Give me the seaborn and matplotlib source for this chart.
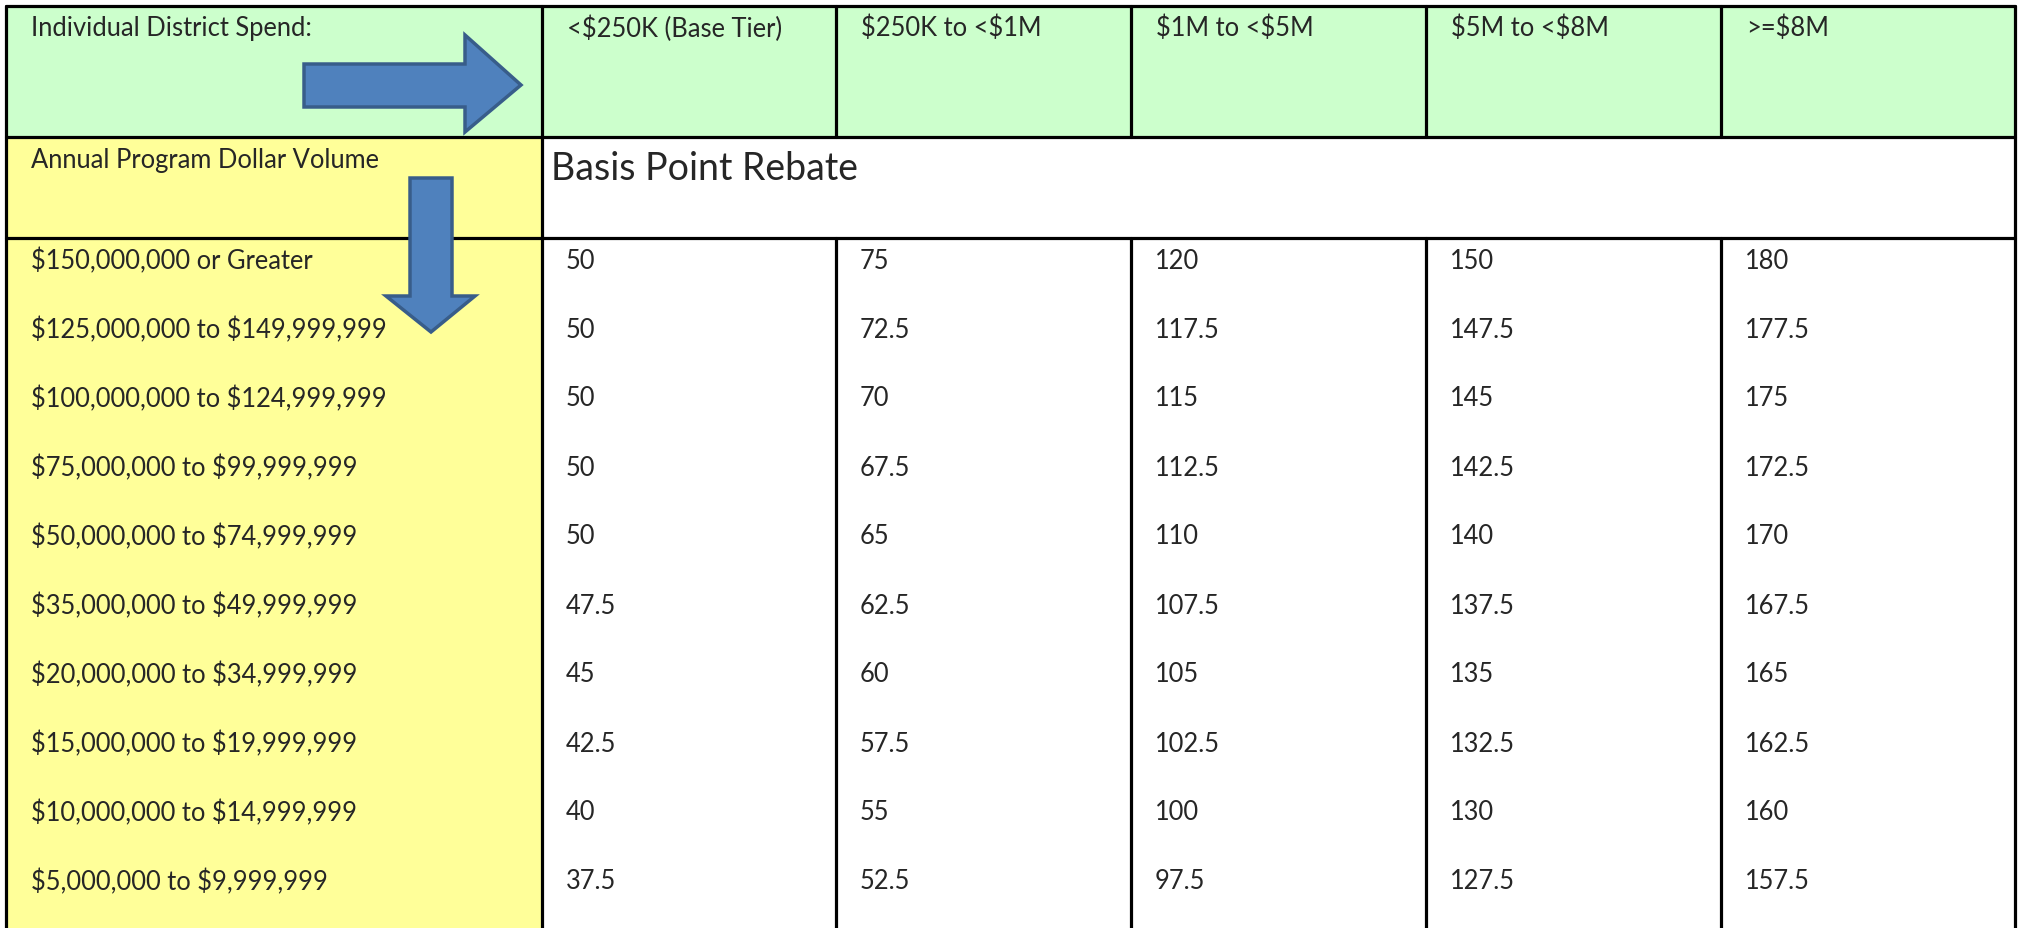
import numpy as np
import pandas as pd
import seaborn as sns
import matplotlib.pyplot as plt
from matplotlib.patches import Rectangle, Polygon

# table content
corner_label = "Individual District Spend:"
row_title = "Annual Program Dollar Volume"
band_label = "Basis Point Rebate"
spend_tiers = ["<$250K (Base Tier)", "$250K to <$1M", "$1M to <$5M", "$5M to <$8M", ">=$8M"]
volume_tiers = [
    "$150,000,000 or Greater",
    "$125,000,000 to $149,999,999",
    "$100,000,000 to $124,999,999",
    "$75,000,000 to $99,999,999",
    "$50,000,000 to $74,999,999",
    "$35,000,000 to $49,999,999",
    "$20,000,000 to $34,999,999",
    "$15,000,000 to $19,999,999",
    "$10,000,000 to $14,999,999",
    "$5,000,000 to $9,999,999",
]
base_tier = [50, 50, 50, 50, 50, 47.5, 45, 42.5, 40, 37.5]
tier_250k = [75, 72.5, 70, 67.5, 65, 62.5, 60, 57.5, 55, 52.5]
tier_1m = [120, 117.5, 115, 112.5, 110, 107.5, 105, 102.5, 100, 97.5]
tier_5m = [150, 147.5, 145, 142.5, 140, 137.5, 135, 132.5, 130, 127.5]
tier_8m = [180, 177.5, 175, 172.5, 170, 167.5, 165, 162.5, 160, 157.5]

df = pd.DataFrame({spend_tiers[0]: base_tier, spend_tiers[1]: tier_250k,
                   spend_tiers[2]: tier_1m, spend_tiers[3]: tier_5m,
                   spend_tiers[4]: tier_8m}, index=volume_tiers)

sns.set_theme(style="white")
plt.rcParams['font.family'] = ['Lato', 'DejaVu Sans']
plt.rcParams['text.parse_math'] = False

W, H = 2023, 929
fig = plt.figure(figsize=(W / 100, H / 100), dpi=100)
ax = fig.add_axes([0, 0, 1, 1])
ax.set_xlim(0, W)
ax.set_ylim(H, 0)
ax.axis('off')

GREEN = '#CCFFCC'
YELLOW = '#FFFF99'
col_edges = [6.5, 542, 836, 1131, 1426, 1721, 2015]
top, head_bot, band_bot = 6.5, 138, 239
row_h = (H - band_bot) / len(volume_tiers)
lw = 2.3
fs = 18.4

# backgrounds
ax.add_patch(Rectangle((col_edges[0], top), col_edges[-1] - col_edges[0], head_bot - top, color=GREEN, zorder=0))
ax.add_patch(Rectangle((col_edges[0], head_bot), col_edges[1] - col_edges[0], H - head_bot, color=YELLOW, zorder=0))

# grid lines
ax.plot([col_edges[0], col_edges[-1]], [top, top], color='black', lw=lw)
ax.plot([col_edges[0], col_edges[-1]], [head_bot, head_bot], color='black', lw=lw)
ax.plot([col_edges[0], col_edges[-1]], [band_bot, band_bot], color='black', lw=lw)
for i, x in enumerate(col_edges):
    y_start = top
    if 1 < i < len(col_edges) - 1:
        ax.plot([x, x], [top, head_bot], color='black', lw=lw)
        y_start = band_bot
    ax.plot([x, x], [y_start, H], color='black', lw=lw)

pad_x, pad_y = 25, 22
ax.text(col_edges[0] + pad_x, top + pad_y, corner_label, fontsize=fs, va='center', ha='left')
for j, lab in enumerate(spend_tiers):
    ax.text(col_edges[j + 1] + pad_x, top + pad_y, lab, fontsize=fs, va='center', ha='left')
ax.text(col_edges[0] + pad_x, head_bot + pad_y, row_title, fontsize=fs, va='center', ha='left')
ax.text(col_edges[1] + 9, head_bot + 31, band_label, fontsize=27, va='center', ha='left')

for i, lab in enumerate(df.index):
    y = band_bot + i * row_h + pad_y
    ax.text(col_edges[0] + pad_x, y, lab, fontsize=fs, va='center', ha='left')
    for j, col in enumerate(df.columns):
        v = df.loc[lab, col]
        ax.text(col_edges[j + 1] + pad_x - 1, y, f"{v:g}", fontsize=fs, va='center', ha='left')

# decorative arrows
fill, edge = '#4F81BD', '#385D8A'
right_arrow = [(304, 65), (465, 65), (465, 36), (521, 86), (465, 133), (465, 108), (304, 108)]
down_arrow = [(410, 179), (452, 179), (452, 297), (475, 297), (431, 333), (386, 297), (410, 297)]
for pts in (right_arrow, down_arrow):
    ax.add_patch(Polygon(pts, closed=True, facecolor=fill, edgecolor=edge, lw=2.5, zorder=5))

fig.savefig('out.png', dpi=100)
